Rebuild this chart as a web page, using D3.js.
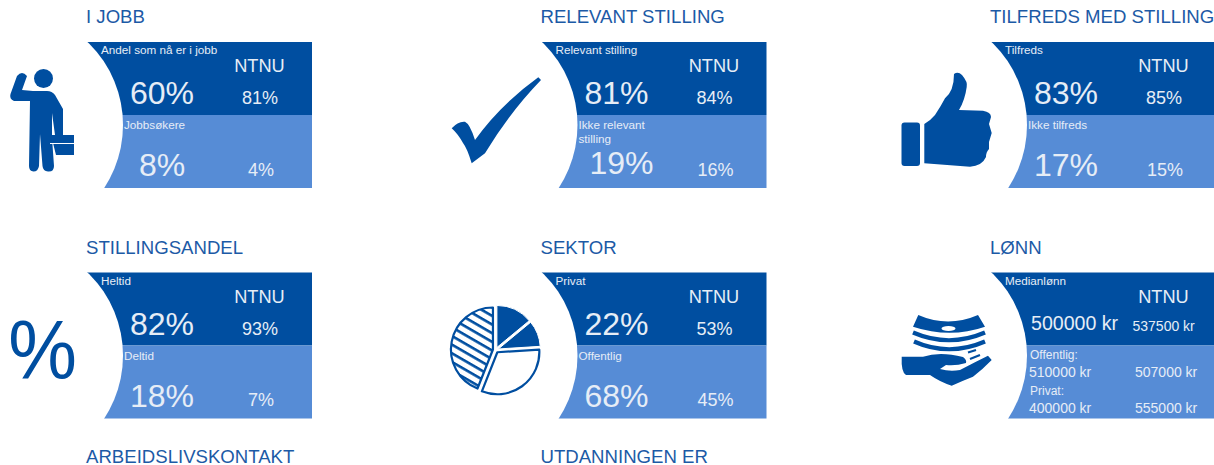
<!DOCTYPE html>
<html>
<head>
<meta charset="utf-8">
<script src="https://cdnjs.cloudflare.com/ajax/libs/d3/7.8.5/d3.min.js"></script>
<style>
html, body { margin: 0; padding: 0; background: #fff; overflow: hidden; }
text { font-family: "Liberation Sans", Arial, sans-serif; }
</style>
</head>
<body>
<div id="chartDiv"></div>
<script>
// values
var titles = ["I JOBB", "RELEVANT STILLING", "TILFREDS MED STILLING", "STILLINGSANDEL", "SEKTOR", "LØNN", "ARBEIDSLIVSKONTAKT", "UTDANNINGEN ER"];
var upperLabels = ["Andel som nå er i jobb", "Relevant stilling", "Tilfreds", "Heltid", "Privat", "Medianlønn"];
var upperValues = ["60%", "81%", "83%", "82%", "22%", "500000 kr"];
var upperNtnu = ["81%", "84%", "85%", "93%", "53%", "537500 kr"];
var lowerLabels = [["Jobbsøkere"], ["Ikke relevant", "stilling"], ["Ikke tilfreds"], ["Deltid"], ["Offentlig"]];
var lowerValues = ["8%", "19%", "17%", "18%", "68%"];
var lowerNtnu = ["4%", "16%", "15%", "7%", "45%"];
var payLabels = ["Offentlig:", "Privat:"];
var payValues = ["510000 kr", "400000 kr"];
var payNtnu = ["507000 kr", "555000 kr"];
var pieShares = [14, 10, 32, 44];

var width = 1214;
var height = 465;
var dark = "#004ea0";
var light = "#568cd6";
var ink = "#e6edf6";
var titleColor = "#1c5aa6";
var panelW = 225;
var panelH = 146;
var splitH = 73;

var colX = d3.scaleOrdinal().domain([0, 1, 2]).range([87, 541.5, 991]);
var rowY = d3.scaleOrdinal().domain([0, 1, 2]).range([42, 272.5, 503]);

var svg = d3.select("#chartDiv")
    .append("svg")
    .attr("width", width)
    .attr("height", height)
    .style("display", "block");

var defs = svg.append("defs");
defs.append("pattern")
    .attr("id", "hatch")
    .attr("patternUnits", "userSpaceOnUse")
    .attr("width", 8)
    .attr("height", 7.5)
    .attr("patternTransform", "rotate(30)")
    .append("rect")
    .attr("width", 8)
    .attr("height", 2.6)
    .attr("fill", dark);

function col(i) { return i % 3; }
function row(i) { return Math.floor(i / 3); }

// panels
var panels = svg.selectAll("g.panel")
    .data(upperValues)
    .enter()
    .append("g")
    .attr("class", "panel")
    .attr("transform", function(d, i) { return "translate(" + colX(col(i)) + "," + rowY(row(i)) + ")"; });

panels.append("rect")
    .attr("width", panelW)
    .attr("height", splitH)
    .attr("fill", dark);

panels.append("rect")
    .attr("y", splitH)
    .attr("width", panelW)
    .attr("height", panelH - splitH)
    .attr("fill", light);

// white circle bites the left side of each panel
panels.append("circle")
    .attr("cx", -79)
    .attr("cy", 83)
    .attr("r", 115)
    .attr("fill", "#fff");

function addText(sel, x, y, size, anchor, fn) {
    return sel.append("text")
        .attr("x", x)
        .attr("y", y)
        .attr("font-size", size)
        .attr("text-anchor", anchor)
        .attr("fill", ink)
        .text(fn);
}

addText(panels, 14, 12, 11.7, "start", function(d, i) { return upperLabels[i]; });
addText(panels, 172.5, 30, 18.2, "middle", function() { return "NTNU"; });

var pctPanels = panels.filter(function(d, i) { return i < 5; });
addText(pctPanels, 75, 62, 32, "middle", function(d) { return d; });
addText(pctPanels, 173, 62, 18, "middle", function(d, i) { return upperNtnu[i]; });

// lower half
pctPanels.each(function(d, i) {
    var g = d3.select(this);
    var lines = lowerLabels[i];
    lines.forEach(function(line, k) {
        addText(g, 37, 87 + k * 14, 11.7, "start", function() { return line; });
    });
    // the two line label pushes the value up and right in the original
    var twoLine = lines.length > 1;
    addText(g, twoLine ? 80 : 75, twoLine ? 132 : 134, 32, "middle", function() { return lowerValues[i]; });
    addText(g, 174, 133.5, 18, "middle", function() { return lowerNtnu[i]; });
});

// pay panel has its own layout
var pay = panels.filter(function(d, i) { return i === 5; });
addText(pay, 40, 57.5, 19.6, "start", function() { return upperValues[5]; });
addText(pay, 141.5, 58.5, 14, "start", function() { return upperNtnu[5]; });
payLabels.forEach(function(label, k) {
    addText(pay, 39, 86.5 + k * 36, 12, "start", function() { return label; });
    addText(pay, 38, 104.5 + k * 36, 14, "start", function() { return payValues[k]; });
    addText(pay, 144, 104.5 + k * 36, 14, "start", function() { return payNtnu[k]; });
});

// titles
svg.selectAll("text.title")
    .data(titles)
    .enter()
    .append("text")
    .attr("class", "title")
    .attr("x", function(d, i) { return colX(col(i)) - 1; })
    .attr("y", function(d, i) { return [23, 254, 463][row(i)]; })
    .attr("font-size", 18.6)
    .attr("fill", titleColor)
    .text(function(d) { return d; });

// icons
var icons = svg.append("g").attr("fill", dark);

// person with briefcase
icons.append("circle").attr("cx", 43.5).attr("cy", 78.5).attr("r", 9.5);
icons.append("path").attr("d",
    "M17 76 Q22 70 27 76 L22 90 L33 91 L47 91 Q52 91 55 95 L63 109 L63 135 L55 135 L52 113 L52 138 " +
    "L54 166 Q54 172 48 171.5 Q43 171 42.5 166 L40 134 L39 166 Q38 171.5 33.5 171.5 Q29 171 29 166 L30 101 L14 101 Q9 99 10.5 94 Z");
icons.append("path").attr("d", "M50 135 L74 135 L74 155 L56 155 L53 143 L50 143 Z");
icons.append("path").attr("d", "M50 143.5 L74 143.5").attr("stroke", "#fff").attr("stroke-width", 1).attr("fill", "none");

// check mark
icons.append("path").attr("d",
    "M451.7 128.3 Q458 121 465 121.7 Q470 124 475 140 Q500 105 538.3 77.3 L541 80 Q510 112 485 153.3 L471.7 163.3 Q467 148 463 143 Q458 134 451.7 128.3 Z");

// thumb up
icons.append("rect").attr("x", 901.5).attr("y", 122.5).attr("width", 18.5).attr("height", 43.5).attr("rx", 3);
icons.append("path").attr("d",
    "M924.3 124 Q931 120 935 115 Q941 106 945 98.3 Q954 91 954 74 Q958 71 962 75 Q968 82 966.7 87 Q965 100 959 110 " +
    "L983 110.7 Q991 112 991 117 L989 124 L991.7 133 L989 142 L989 149 Q986 152 986 157 Q982 166 970 166.7 L924.3 163.3 Z");

// percent sign
svg.append("text")
    .attr("transform", "translate(42.5,379) scale(0.92,1)")
    .attr("font-size", 84)
    .attr("text-anchor", "middle")
    .attr("fill", dark)
    .text("%");

// pie icon, slices pulled slightly apart
var pieArc = d3.arc().innerRadius(0).outerRadius(42);
var pieData = d3.pie().sort(null).value(function(d) { return d; })(pieShares);
var pieFills = [dark, dark, "#fff", "url(#hatch)"];
icons.append("g")
    .attr("transform", "translate(495.7,350)")
    .selectAll("path")
    .data(pieData)
    .enter()
    .append("path")
    .attr("d", pieArc)
    .attr("transform", function(d) {
        var c = pieArc.centroid(d);
        var n = Math.sqrt(c[0] * c[0] + c[1] * c[1]);
        return "translate(" + (c[0] / n * 2.8) + "," + (c[1] / n * 2.8) + ")";
    })
    .attr("fill", function(d, i) { return pieFills[i]; })
    .attr("stroke", function(d, i) { return i < 2 ? "#fff" : dark; })
    .attr("stroke-width", function(d, i) { return i < 2 ? 1 : 2.2; })
    .attr("stroke-linejoin", "round");

// hand holding money
icons.append("path").attr("d",
    "M918.3 315 Q948 328 978 315 L985 326.7 Q950 339 913 326.7 Z");
icons.append("ellipse").attr("cx", 948.5).attr("cy", 328.5).attr("rx", 7).attr("ry", 2.4).attr("fill", "#fff");
icons.append("path").attr("d", "M913 332.5 Q949 348 985 332.5").attr("fill", "none").attr("stroke", dark).attr("stroke-width", 4.2);
icons.append("path").attr("d", "M914 341.5 Q949 357 985 341.5").attr("fill", "none").attr("stroke", dark).attr("stroke-width", 4.2);
icons.append("path").attr("d",
    "M901.7 356.7 L923 356.7 Q940 351 963 357 Q967 360 966 363 Q956 366 946 365 L940 369 Q950 372 960 370 " +
    "Q975 362 988 355.7 L991.7 360 Q982 370 973 376.7 Q962 381 951.7 385.7 Q940 382 930 375 L906 375 Q901 372 901.7 356.7 Z");
icons.append("path").attr("d", "M968 352.5 L976 350 M970 359 L980 355").attr("fill", "none").attr("stroke", dark).attr("stroke-width", 2.2);
</script>
</body>
</html>
